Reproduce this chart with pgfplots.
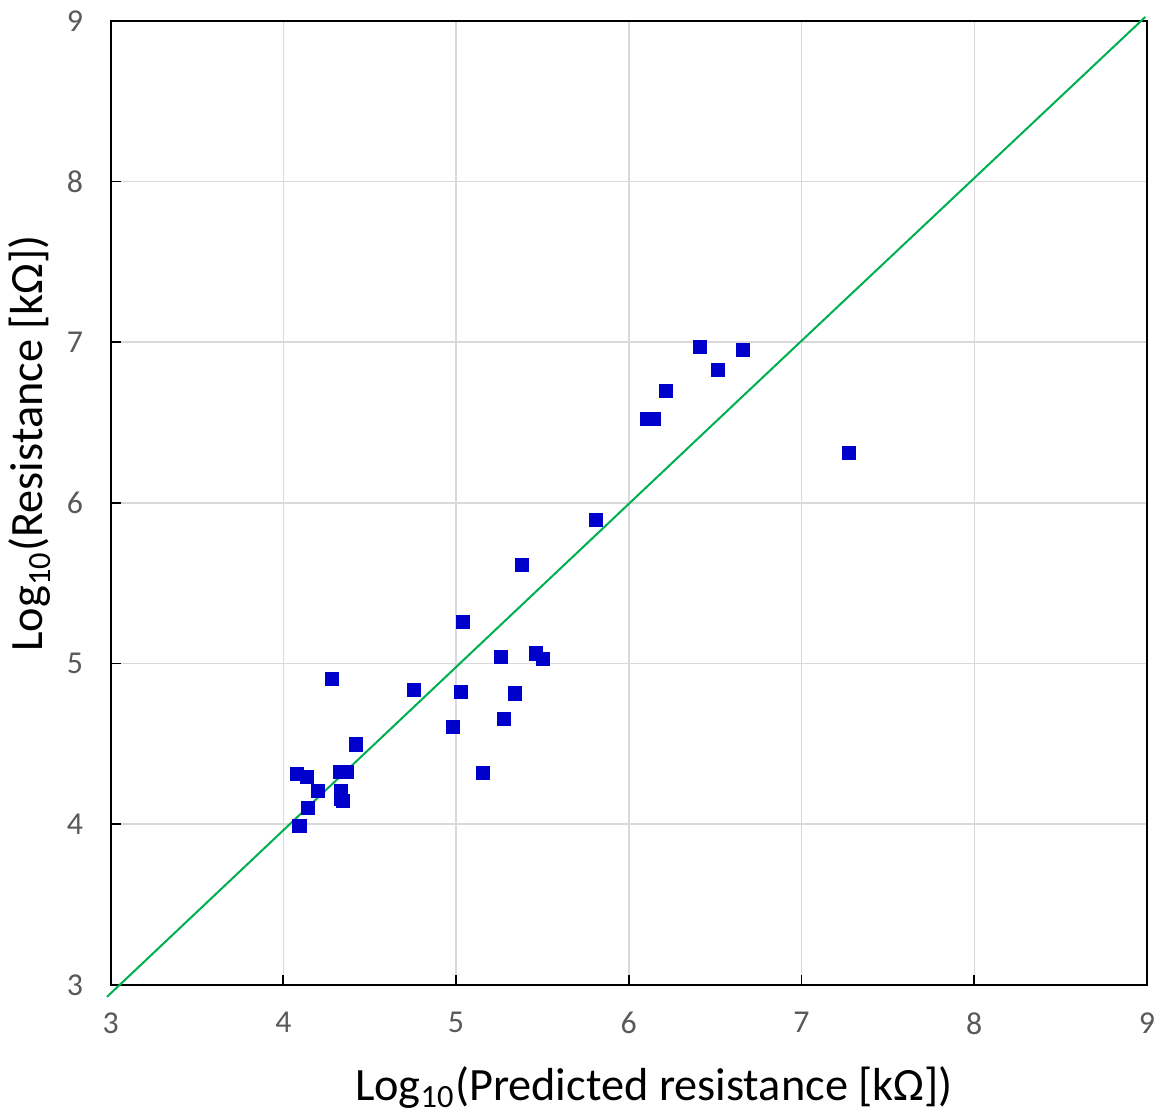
\documentclass[border=0pt]{standalone}
\usepackage{pgfplots}
\pgfplotsset{compat=1.18}
\usepackage{fontspec}
\setmainfont{Carlito}
\definecolor{mblue}{RGB}{0,0,204}
\definecolor{lgreen}{RGB}{0,176,80}
\definecolor{tgray}{RGB}{89,89,89}
\definecolor{ggray}{RGB}{217,217,217}
\begin{document}
\begin{tikzpicture}
\begin{axis}[
  scale only axis,
  width=358pt, height=333pt,
  xmin=3, xmax=9, ymin=3, ymax=9,
  xtick={3,...,9}, ytick={3,...,9},
  tick pos=left,
  tick align=inside,
  major tick length=3.5pt,
  tick style={black, line width=0.6pt},
  axis line style={black, line width=0.7pt},
  grid=major,
  grid style={ggray, line width=0.5pt},
  ticklabel style={font=\fontsize{11}{13}\selectfont, text=tgray},
  /pgf/number format/assume math mode=true,
  xticklabel style={yshift=-6pt},
  yticklabel style={xshift=-6pt},
  clip=false,
  xlabel={Log\textsubscript{10}(Predicted resistance [kΩ])},
  ylabel={Log\textsubscript{10}(Resistance [kΩ])},
  every axis x label/.style={at={(rel axis cs:0.226,-0.1195)}, anchor=base west, font=\fontsize{16}{19}\selectfont, text=black},
  every axis y label/.style={at={(rel axis cs:-0.0653,0.335)}, anchor=base west, rotate=90, font=\fontsize{16}{19}\selectfont, text=black},
]
\coordinate (sw) at (rel axis cs:0,0);
\addplot[lgreen, line width=0.7pt] coordinates {(2.979,2.925) (6.655,6.659) (8.99,9.024)};
\addplot[only marks, mark=square*, mark size=2.25pt, mark options={fill=mblue, draw=mblue}] coordinates {
(4.077,4.313)
(4.135,4.294)
(4.281,4.904)
(4.202,4.207)
(4.141,4.100)
(4.094,3.988)
(4.328,4.324)
(4.367,4.324)
(4.419,4.496)
(4.335,4.209)
(4.332,4.156)
(4.347,4.143)
(4.758,4.834)
(5.030,4.825)
(4.982,4.605)
(5.156,4.319)
(5.260,5.041)
(5.343,4.813)
(5.277,4.657)
(5.464,5.062)
(5.501,5.029)
(5.380,5.614)
(5.810,5.894)
(5.042,5.257)
(6.104,6.522)
(6.146,6.522)
(6.215,6.696)
(6.414,6.972)
(6.517,6.829)
(6.663,6.953)
(7.273,6.309)
};
\end{axis}
\pgfresetboundingbox
\path[use as bounding box] ([shift={(-38.2pt,-44.9pt)}]sw) rectangle ([shift={(361.8pt,340.2pt)}]sw);
\end{tikzpicture}
\end{document}
